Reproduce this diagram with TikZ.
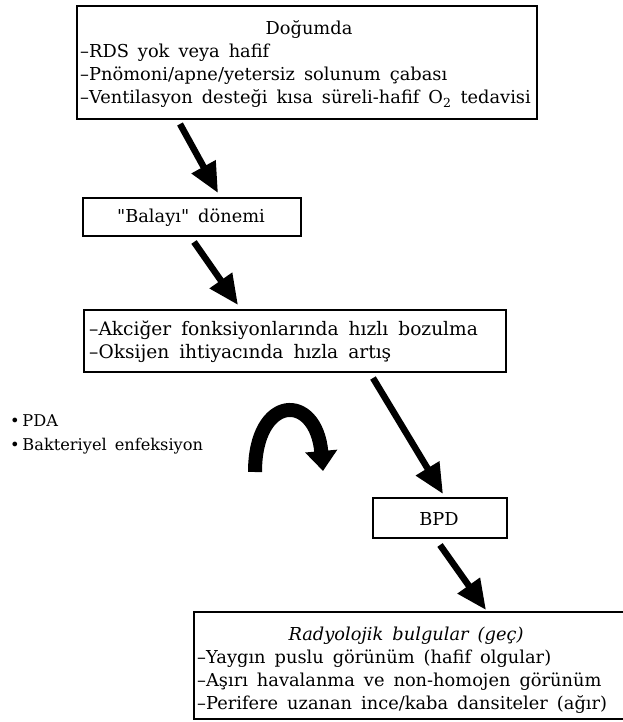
\documentclass[tikz,border=0pt]{standalone}
\usepackage{fontspec}
\setmainfont{DejaVu Serif}
\usetikzlibrary{arrows.meta}
\newcommand\boxfont{\fontsize{17.8}{23}\selectfont\spaceskip=9pt plus 2pt minus 1pt\relax}
\newcommand\midfont{\fontsize{18.6}{23}\selectfont\spaceskip=10pt plus 2pt minus 1pt\relax}
\newcommand\sidefont{\fontsize{16.2}{24}\selectfont\spaceskip=8pt plus 2pt minus 1pt\relax}
\begin{document}
\begin{tikzpicture}[x=1pt,y=-1pt,
  box/.style={draw, line width=2pt, inner sep=0pt, anchor=north west},
  txt/.style={font=\boxfont, inner sep=0pt},
  midtxt/.style={font=\midfont, inner sep=0pt},
  sidetxt/.style={font=\sidefont, inner sep=0pt},
  bigarrow/.style={line width=6.5pt, -{Triangle[width=26pt,length=30pt]}},
]
\useasboundingbox (0,0) rectangle (622,722);
\fill[white] (0,0) rectangle (622,722);

% boxes
\node[box, minimum width=460pt, minimum height=113pt] (b1) at (76,5) {};
\node[box, minimum width=218pt, minimum height=38pt] (b2) at (82,197) {};
\node[box, minimum width=422pt, minimum height=62pt] (b3) at (83,309) {};
\node[box, minimum width=134pt, minimum height=40pt] (b4) at (372,497) {};
\node[box, minimum width=440pt, minimum height=107pt] (b5) at (193,611) {};

% texts of the first box
\node[txt, anchor=base] (t10) at (309,35) {Doğumda};
\node[txt, anchor=base west] (t11) at (80,58) {–RDS yok veya hafif};
\node[txt, anchor=base west] (t12) at (80,81) {–Pnömoni/apne/yetersiz solunum çabası};
\node[txt, anchor=base west] (t13) at (80,104) {–Ventilasyon desteği kısa süreli-hafif O\textsubscript{2} tedavisi};

\node[txt, anchor=base] (t20) at (191,222) {\textquotedbl Balayı\textquotedbl\ dönemi};

\node[midtxt, anchor=base west] (t31) at (89,335) {–Akciğer fonksiyonlarında hızlı bozulma};
\node[midtxt, anchor=base west] (t32) at (89,358) {–Oksijen ihtiyacında hızla artış};

\node[sidetxt, anchor=base west] (p1) at (10,426) {\textbullet\,PDA};
\node[sidetxt, anchor=base west] (p2) at (10,450) {\textbullet\,Bakteriyel enfeksiyon};

\node[txt, anchor=base] (t40) at (439,525) {BPD};

\node[txt, anchor=base] (t50) at (406,640) {\itshape Radyolojik bulgular (geç)};
\node[txt, anchor=base west] (t51) at (197,663) {–Yaygın puslu görünüm (hafif olgular)};
\node[txt, anchor=base west] (t52) at (197,686) {–Aşırı havalanma ve non-homojen görünüm};
\node[txt, anchor=base west] (t53) at (197,709) {–Perifere uzanan ince/kaba dansiteler (ağır)};

% connectors
\draw[bigarrow] ([xshift=104pt,yshift=-4pt]b1.south west) -- ([xshift=136pt,yshift=4pt]b2.north west);
\draw[bigarrow] ([xshift=112pt,yshift=-5pt]b2.south west) -- ([xshift=155pt,yshift=4pt]b3.north west);
\draw[bigarrow] ([xshift=290pt,yshift=-5pt]b3.south west) -- ([xshift=71pt,yshift=3pt]b4.north west);
\draw[bigarrow] ([xshift=68pt,yshift=-6pt]b4.south west) -- ([xshift=293pt,yshift=1pt]b5.north west);

% curved arrow beside the bullet list
\coordinate (cs) at (255,472);
\coordinate (ce) at (323,471);
\draw[line width=14pt, -{Triangle[width=31pt,length=20pt]}] (cs) .. controls (255,394) and (316,392) .. (ce);
\end{tikzpicture}
\end{document}
